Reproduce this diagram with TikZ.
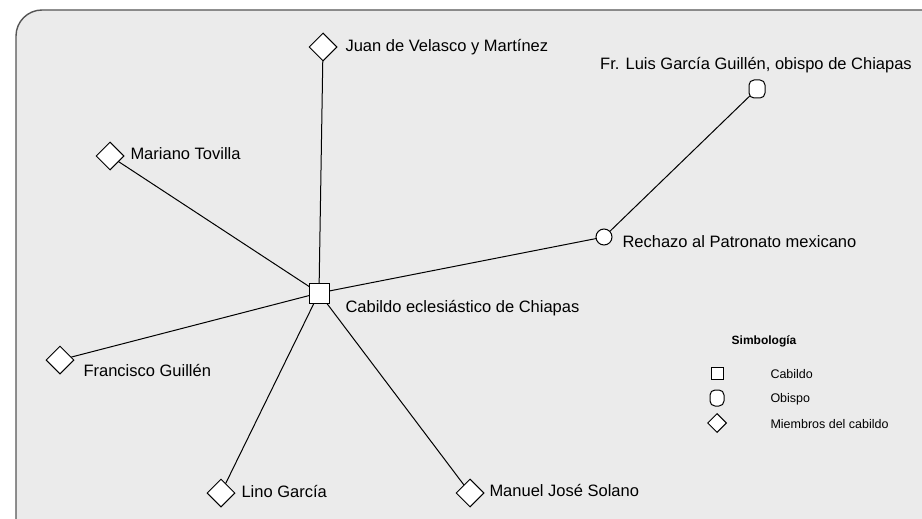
\documentclass[tikz,border=0pt]{standalone}
\usepackage{fontspec}
\setmainfont{Liberation Sans}
\usetikzlibrary{shapes.geometric}
\definecolor{panel}{HTML}{EBEBEB}
\definecolor{rim}{HTML}{555555}
\begin{document}
\begin{tikzpicture}[x=1pt,y=-1pt,line width=1pt,
    cab/.style={draw,fill=white,rectangle,inner sep=0pt,minimum size=20pt},
    obi/.style={draw,fill=white,rectangle,rounded corners=5pt,inner sep=0pt,minimum width=16pt,minimum height=18pt},
    tema/.style={draw,fill=white,circle,inner sep=0pt,minimum size=16pt},
    miem/.style={draw,fill=white,diamond,inner sep=0pt,minimum size=28pt},
    txt/.style={anchor=west,inner sep=0pt,font=\fontsize{16.5}{18}\selectfont},
    leyenda/.style={anchor=west,inner sep=0pt,font=\fontsize{12.5}{14}\selectfont}]
  \useasboundingbox (0,0) rectangle (922,519);
  \fill[white] (0,0) rectangle (922,519);
  \draw[rim,fill=panel,line width=1.4pt,rounded corners=26pt] (16,10) rectangle (950,545);
  % edges first
  \path
    (319,293) coordinate (c0)
    (323,47) coordinate (c1)
    (110,156) coordinate (c2)
    (60,360) coordinate (c3)
    (221,493) coordinate (c4)
    (470,493) coordinate (c5)
    (604,237) coordinate (c6)
    (757,89) coordinate (c7);
  \begin{scope}[-]
    \draw (c0) to (c1);
    \draw (c0) to (c2);
    \draw (c0) to (c3);
    \draw (c0) to (c4);
    \draw (c0) to (c5);
    \draw (c0) to (c6);
    \draw (c6) to (c7);
  \end{scope}
  % nodes
  \draw
    (c0) node[cab] (cabildo){}
    (c1) node[miem] (velasco){}
    (c2) node[miem] (tovilla){}
    (c3) node[miem] (guillen){}
    (c4) node[miem] (lino){}
    (c5) node[miem] (solano){}
    (c6) node[tema] (rechazo){}
    (c7) node[obi] (obispo){};
  \node[txt] (cabildotxt) at (345,308) {Cabildo eclesiástico de Chiapas};
  \node[txt] (velascotxt) at (345,47) {Juan de Velasco y Martínez};
  \node[txt] (tovillatxt) at (130,154) {Mariano Tovilla};
  \node[txt] (guillentxt) at (83,371) {Francisco Guillén};
  \node[txt] (linotxt) at (241,492) {Lino García};
  \node[txt] (solanotxt) at (489,491) {Manuel José Solano};
  \node[txt] (rechazotxt) at (622,242) {Rechazo al Patronato mexicano};
  \node[txt,anchor=center] (obispotxt) at (756,65) {Fr. Luis García Guillén, obispo de Chiapas};
  % simbologia
  \node[leyenda,anchor=center,font=\fontsize{12}{14}\selectfont\bfseries] (simb) at (764,341) {Simbología};
  \draw
    (717,373) node[cab,minimum size=12pt] (kcab){}
    (717,398) node[obi,minimum width=14pt,minimum height=16pt] (kobi){}
    (717,423) node[miem,minimum size=19pt] (kmiem){};
  \node[leyenda] (kcabtxt) at (770,374) {Cabildo};
  \node[leyenda] (kobitxt) at (770,399) {Obispo};
  \node[leyenda] (kmiemtxt) at (770,424) {Miembros del cabildo};
\end{tikzpicture}
\end{document}
